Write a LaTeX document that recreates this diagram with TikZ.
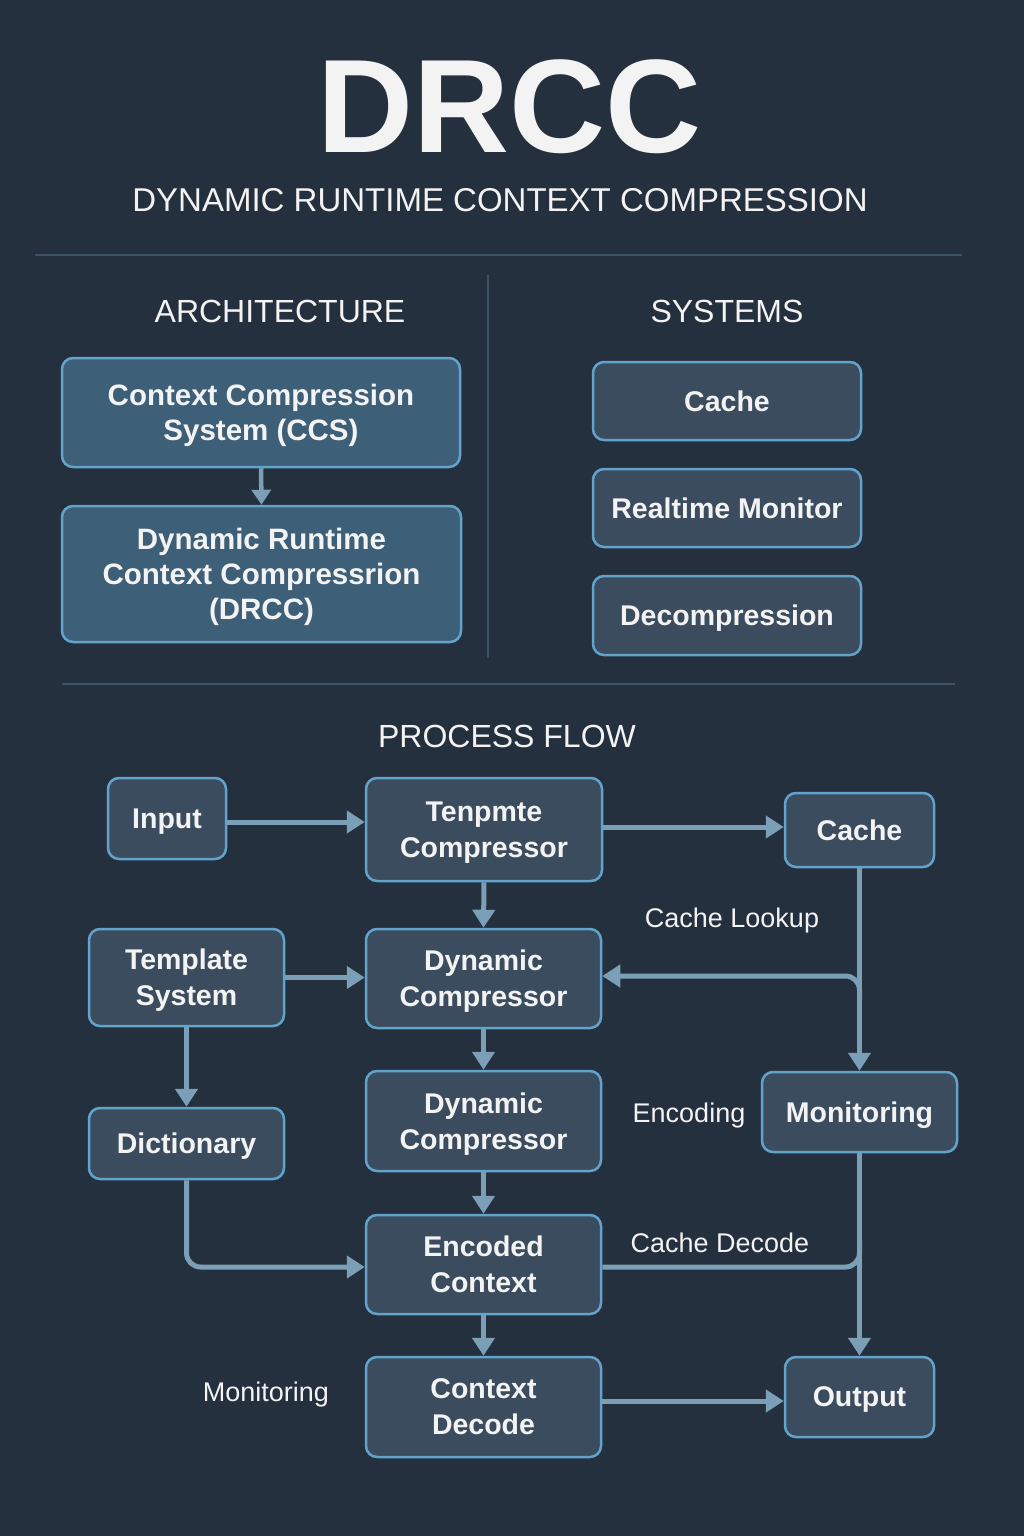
\documentclass[tikz,border=0pt]{standalone}
\usepackage{fontspec}
\setmainfont{Liberation Sans}
\usetikzlibrary{arrows.meta,calc}
\definecolor{bg}{HTML}{25303E}
\definecolor{boxfill}{HTML}{3A4C5E}
\definecolor{archfill}{HTML}{3D5F78}
\definecolor{border}{HTML}{62A3CC}
\definecolor{arrowc}{HTML}{7A9FB6}
\definecolor{divider}{HTML}{3C5164}
\definecolor{txt}{HTML}{F3F3F3}
\begin{document}
\begin{tikzpicture}[x=1pt,y=-1pt,
  basebox/.style={draw=border, line width=2.5pt, rounded corners=11pt, text=txt, align=center, inner sep=0pt,
     text depth=0pt, font=\bfseries\fontsize{28.5}{36}\selectfont},
  flowbox/.style={basebox, fill=boxfill},
  archbox/.style={basebox, fill=archfill, font=\bfseries\fontsize{29.5}{35}\selectfont},
  arr/.style={draw=arrowc, line width=5pt, -{Triangle[length=18pt,width=22pt]}},
  plain/.style={draw=arrowc, line width=5pt},
  lbl/.style={text=txt, inner sep=0pt, anchor=base, font=\fontsize{27}{32}\selectfont},
  head/.style={text=txt, inner sep=0pt, anchor=base, font=\fontsize{32}{38}\selectfont},
  rule/.style={draw=divider, line width=1.5pt}
]
\useasboundingbox (0,0) rectangle (1024,1536);
\fill[bg] (0,0) rectangle (1024,1536);

% title
\node[text=txt, inner sep=0pt, anchor=base, font=\bfseries\fontsize{133}{133}\selectfont] (title) at (510,152) {DRCC};
\node[head, font=\fontsize{33}{38}\selectfont] (subtitle) at (500,211) {DYNAMIC RUNTIME CONTEXT COMPRESSION};

% dividers
\coordinate (r1a) at (35,255); \coordinate (r1b) at (962,255);
\coordinate (vda) at (488,275); \coordinate (vdb) at (488,658);
\coordinate (r2a) at (62,684); \coordinate (r2b) at (955,684);
\draw[rule] (r1a) -- (r1b);
\draw[rule] (vda) -- (vdb);
\draw[rule] (r2a) -- (r2b);

% headings
\node[head] (harch) at (280,322) {ARCHITECTURE};
\node[head] (hsys) at (727,322) {SYSTEMS};
\node[head] (hflow) at (507,747) {PROCESS FLOW};

% architecture
\node[archbox, minimum width=398pt, minimum height=109pt] (arch1) at (261,412.5) {Context Compression\\System (CCS)};
\node[archbox, minimum width=399pt, minimum height=136pt] (arch2) at (261.5,574) {Dynamic Runtime\\Context Compressrion\\(DRCC)};
\draw[arr, line width=4.5pt, -{Triangle[length=15pt,width=19pt]}] (arch1.south) -- (arch2.north);

% systems
\node[flowbox, minimum width=268pt, minimum height=78pt] (sys1) at (727,401) {Cache};
\node[flowbox, minimum width=268pt, minimum height=78pt] (sys2) at (727,508) {Realtime Monitor};
\node[flowbox, minimum width=268pt, minimum height=79pt] (sys3) at (727,615.5) {Decompression};

% process flow
\node[flowbox, minimum width=118pt, minimum height=81pt] (input) at (167,818.5) {Input};
\node[flowbox, minimum width=236pt, minimum height=103pt] (tenp) at (484,829.5) {Tenpmte\\Compressor};
\node[flowbox, minimum width=149pt, minimum height=74pt] (cacheF) at (859.5,830) {Cache};
\node[flowbox, minimum width=195pt, minimum height=97pt] (templ) at (186.5,977.5) {Template\\System};
\node[flowbox, minimum width=235pt, minimum height=99pt] (dyn1) at (483.5,978.5) {Dynamic\\Compressor};
\node[flowbox, minimum width=195pt, minimum height=71pt] (dict) at (186.5,1143.5) {Dictionary};
\node[flowbox, minimum width=235pt, minimum height=100pt] (dyn2) at (483.5,1121) {Dynamic\\Compressor};
\node[flowbox, minimum width=195pt, minimum height=80pt] (mon) at (859.5,1112) {Monitoring};
\node[flowbox, minimum width=235pt, minimum height=99pt] (enc) at (483.5,1264.5) {Encoded\\Context};
\node[flowbox, minimum width=235pt, minimum height=100pt] (cdec) at (483.5,1407) {Context\\Decode};
\node[flowbox, minimum width=149pt, minimum height=80pt] (out) at (859.5,1397) {Output};

% labels
\node[lbl] (lcl) at (732,927) {Cache Lookup};
\node[lbl] (lenc) at (689,1122) {Encoding};
\node[lbl] (lcd) at (720,1252) {Cache Decode};
\node[lbl] (lmon) at (266,1401) {Monitoring};

% connectors
\draw[arr] ($(input.east)+(0,3.5)$) -- ($(input.east -| tenp.west)+(0,3.5)$);
\draw[arr] ($(tenp.east |- cacheF)+(0,-3)$) -- ($(cacheF.west)+(0,-3)$);
\draw[arr] (tenp.south) -- (dyn1.north);
\draw[arr] (templ.east) -- (templ.east -| dyn1.west);
\draw[arr] (cacheF.south) -- (mon.north);
\coordinate (j1) at (859.5,1000);
\draw[arr, rounded corners=14pt] (j1) |- ($(dyn1.east)+(0,-2.5)$);
\draw[arr] (dyn1.south) -- (dyn2.north);
\draw[arr] (dyn2.south) -- (enc.north);
\draw[arr] (enc.south) -- (cdec.north);
\draw[arr] (templ.south) -- (dict.north);
\draw[arr, rounded corners=14pt] (dict.south) |- ($(enc.west)+(0,2.5)$);
\draw[arr] (mon.south) -- (out.north);
\coordinate (j2) at (859.5,1240);
\draw[plain, rounded corners=14pt] ($(enc.east)+(0,2.5)$) -| (j2);
\draw[arr] ($(cdec.east)+(0,-6)$) -- ($(cdec.east -| out.west)+(0,-6)$);
\end{tikzpicture}
\end{document}
